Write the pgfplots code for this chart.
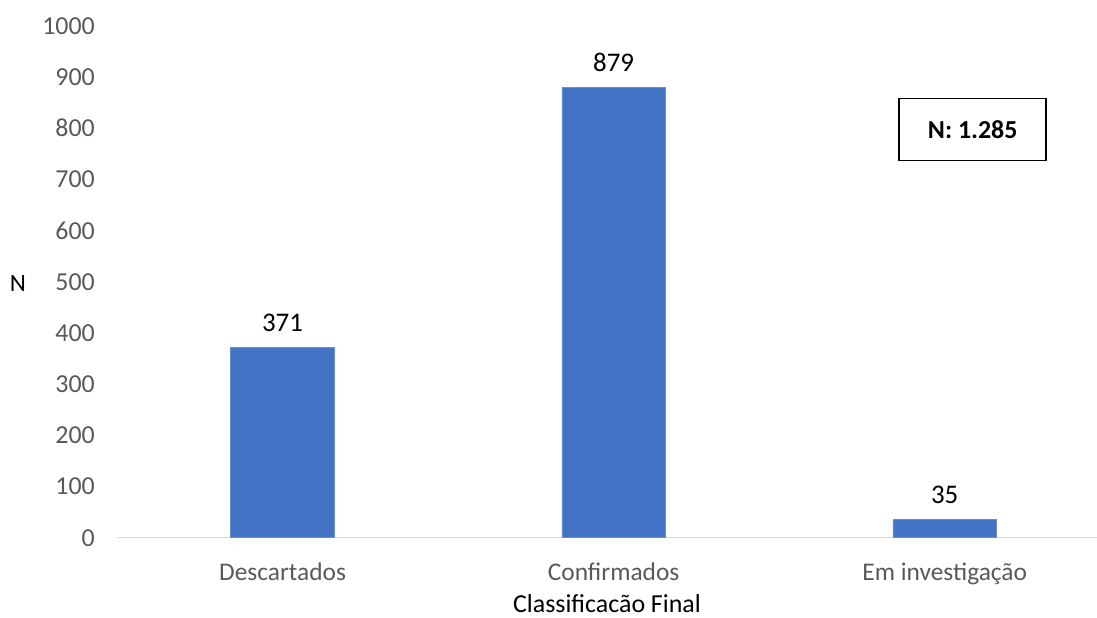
\documentclass[border=0pt]{standalone}
\usepackage{fontspec}
\setmainfont{Carlito}
\usepackage{pgfplots}
\pgfplotsset{compat=1.18}
\definecolor{barblue}{HTML}{4472C4}
\definecolor{ticktext}{HTML}{595959}
\definecolor{axisline}{HTML}{D9D9D9}
\begin{document}
\begin{tikzpicture}
\useasboundingbox (0,0) rectangle (1097bp,618bp);
\begin{axis}[
  at={(117bp,80.3bp)}, anchor=south west,
  scale only axis,
  width=980bp, height=512bp,
  xmin=-0.5, xmax=2.46,
  ymin=0, ymax=1000,
  ytick={0,100,...,1000},
  xtick={0,1,2},
  xticklabels={Descartados,Confirmados,Em investigação},
  axis y line=none,
  axis x line*=bottom,
  x axis line style={draw=axisline, line width=1.3bp, -},
  major tick length=0pt,
  tick label style={font=\fontsize{25.5}{30}\selectfont, text=ticktext},
  /pgf/number format/assume math mode=true,
  /pgf/number format/1000 sep={},
  xticklabel style={yshift=-22bp},
  xlabel={Classificacão Final},
  xlabel style={font=\fontsize{26}{31}\selectfont, yshift=-5bp, inner sep=1bp},
  clip=false,
]
% y tick labels drawn by hand since the y axis line is hidden
\pgfplotsinvokeforeach{0,100,...,1000}{
  \node[anchor=east, font=\fontsize{26}{31}\selectfont, text=ticktext, inner sep=0pt]
    at (axis cs:-0.5,#1) [xshift=-22bp] {#1};
}
\node[font=\fontsize{25}{30}\selectfont, anchor=center] at (axis cs:-0.5,500) [xshift=-99bp, yshift=-2bp] {N};
\addplot[ybar, bar width=103.6bp, fill=barblue, draw=barblue!80!white, line width=0.6bp,
  nodes near coords, nodes near coords style={font=\fontsize{27}{32}\selectfont, text=black, yshift=12bp}]
  coordinates {(0,371) (1,879) (2,35)};
\node[draw=black, line width=1.5bp, minimum width=147bp, minimum height=62bp,
  font=\fontsize{26}{31}\selectfont\bfseries, anchor=center]
  at (axis cs:2.0845,797) {N: 1.285};
\end{axis}
\end{tikzpicture}
\end{document}
